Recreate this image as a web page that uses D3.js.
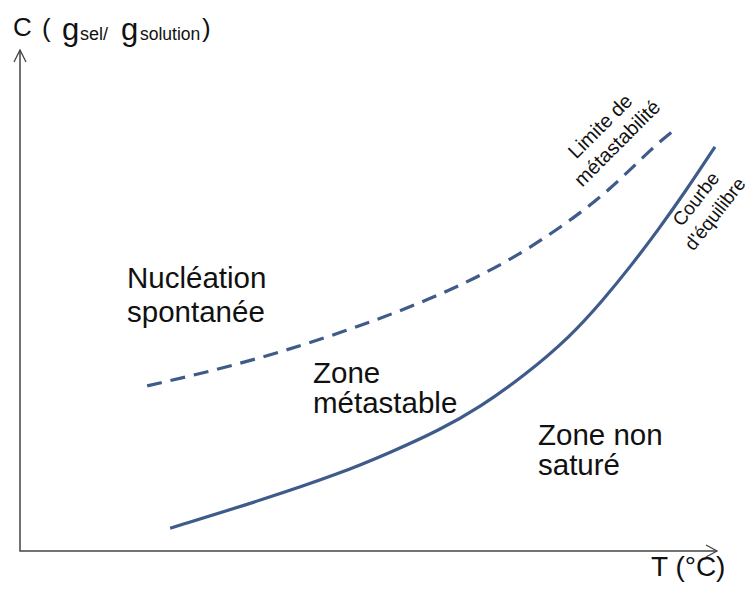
<!DOCTYPE html>
<html>
<head>
<meta charset="utf-8">
<script src="https://cdn.jsdelivr.net/npm/d3@7"></script>
<style>
  body { margin: 0; background: #fff; }
  svg { display: block; font-family: "Liberation Sans", Arial, sans-serif; }
</style>
</head>
<body>
<div id="chart"></div>
<script>
// curve values (arbitrary units, T and C from 0 to 100)
const equilibreT = [21.6, 35.3, 46.0, 53.2, 60.4, 66.2, 72.7, 79.1, 83.9, 87.8, 91.7, 95.8, 100];
const equilibreC = [4.6, 10.5, 15.6, 19.8, 24.4, 29.0, 35.5, 43.1, 50.6, 57.3, 64.5, 72.6, 81.5];
const limiteT = [18.3, 30.2, 44.6, 59.0, 70.1, 78.7, 84.9, 91.1, 94.5];
const limiteC = [33.3, 37.1, 43.1, 50.6, 58.1, 66.1, 72.8, 81.5, 85.3];

const zoneLabels = [['Nucléation', 'spontanée'], ['Zone', 'métastable'], ['Zone non', 'saturé']];
const curveLabels = [['Limite de', 'métastabilité'], ['Courbe', 'd\'équilibre']];

const width = 750, height = 592;
const lineColor = '#3e5b8a';
const axisColor = '#444';

const svg = d3.select('#chart').append('svg')
  .attr('width', width)
  .attr('height', height);

const x = d3.scaleLinear().domain([0, 100]).range([20, 715]);
const y = d3.scaleLinear().domain([0, 100]).range([551, 55]);

// axes with open arrow heads
svg.append('path')
  .attr('d', `M${x(0)},50 L${x(0)},${y(0)} L717,${y(0)}`)
  .attr('fill', 'none')
  .attr('stroke', axisColor)
  .attr('stroke-width', 1.5);
svg.append('path')
  .attr('d', `M${x(0) - 6},62 L${x(0)},50 L${x(0) + 6},62`)
  .attr('fill', 'none').attr('stroke', axisColor).attr('stroke-width', 1.3);
svg.append('path')
  .attr('d', `M706,${y(0) - 6} L717,${y(0)} L706,${y(0) + 6}`)
  .attr('fill', 'none').attr('stroke', axisColor).attr('stroke-width', 1.3);

// axis titles
const yTitle = svg.append('text').attr('fill', '#111');
yTitle.append('tspan').attr('x', 13).attr('y', 36).attr('font-size', 26).text('C');
yTitle.append('tspan').attr('x', 42).attr('y', 37).attr('font-size', 26).text('(');
yTitle.append('tspan').attr('x', 62).attr('y', 40).attr('font-size', 31).text('g');
yTitle.append('tspan').attr('x', 80).attr('y', 40).attr('font-size', 18).text('sel/');
yTitle.append('tspan').attr('x', 121).attr('y', 40).attr('font-size', 31).text('g');
yTitle.append('tspan').attr('x', 140).attr('y', 40).attr('font-size', 17.5).text('solution');
yTitle.append('tspan').attr('x', 202).attr('y', 37).attr('font-size', 26).text(')');

svg.append('text')
  .attr('x', 651).attr('y', 576)
  .attr('font-size', 28)
  .attr('fill', '#111')
  .text('T (°C)');

// curves
const line = d3.line()
  .x(d => x(d[0]))
  .y(d => y(d[1]))
  .curve(d3.curveBasis);

svg.append('path')
  .datum(equilibreT.map((t, i) => [t, equilibreC[i]]))
  .attr('d', line)
  .attr('fill', 'none')
  .attr('stroke', lineColor)
  .attr('stroke-width', 3.2);

svg.append('path')
  .datum(limiteT.map((t, i) => [t, limiteC[i]]))
  .attr('d', line)
  .attr('fill', 'none')
  .attr('stroke', lineColor)
  .attr('stroke-width', 3.2)
  .attr('stroke-dasharray', '15,9');

// zone labels
const zonePos = [[127, 288, 34], [313, 383, 30], [538, 445, 30]];
zoneLabels.forEach((lines, i) => {
  const [px, py, dy] = zonePos[i];
  const t = svg.append('text')
    .attr('x', px).attr('y', py)
    .attr('font-size', 29.5)
    .attr('fill', '#111');
  lines.forEach((s, j) => {
    t.append('tspan').attr('x', px).attr('y', py + j * dy).text(s);
  });
});

// rotated curve labels
const curvePos = [[605, 131, -45, 20], [701, 203, -52, 19]];
curveLabels.forEach((lines, i) => {
  const [px, py, rot, fs] = curvePos[i];
  const g = svg.append('g').attr('transform', `translate(${px},${py}) rotate(${rot})`);
  lines.forEach((s, j) => {
    g.append('text')
      .attr('x', 0).attr('y', j * 24)
      .attr('text-anchor', 'middle')
      .attr('font-size', fs)
      .attr('fill', '#111')
      .text(s);
  });
});
</script>
</body>
</html>
